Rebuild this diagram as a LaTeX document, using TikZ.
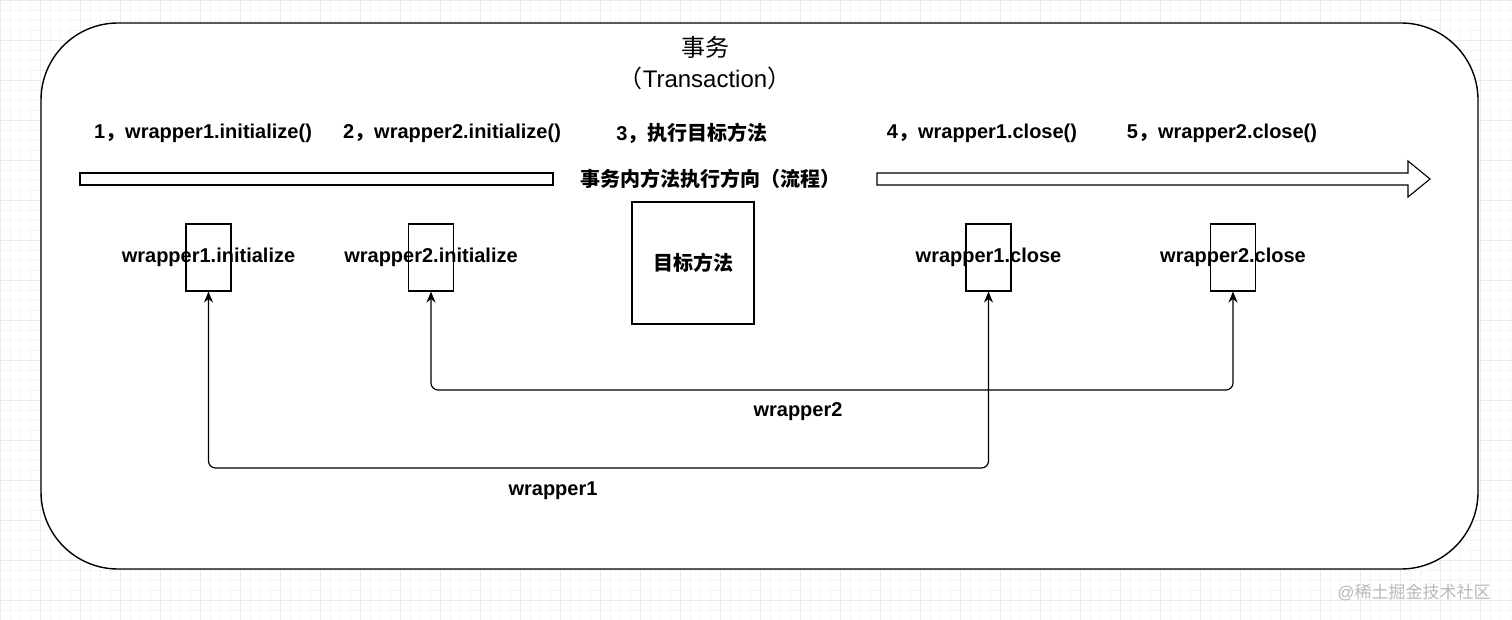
\documentclass[tikz,border=0pt]{standalone}
\usepackage{fontspec}
\setmainfont{Liberation Sans}
\newfontfamily\cjk{Noto Sans CJK SC}
\usetikzlibrary{arrows.meta,positioning}

\begin{document}
\begin{tikzpicture}[x=1pt,y=-1pt,
	tag/.style={font=\fontsize{20}{22}\selectfont\bfseries,inner sep=0},
	slot/.style={draw,line width=1.1pt,minimum width=45pt,minimum height=67pt,inner sep=0},
	link/.style={draw,line width=1.2pt,rounded corners=7pt,{Stealth[length=11pt,width=9pt]}-{Stealth[length=11pt,width=9pt]}},
	flow/.style={draw,line width=1.1pt,fill=white},
]
\useasboundingbox (0,0) rectangle (1512,620);
\draw[gray!8,line width=0.6pt,step=10pt] (0,0) grid (1512,620);
\draw[gray!16,line width=0.8pt,step=40pt] (0,0) grid (1512,620);
\node[draw,line width=1.4pt,fill=white,rounded corners=77pt,minimum width=1437pt,minimum height=546pt] (tx) at (759.5,296) {};
\node[font=\fontsize{24}{31}\selectfont,align=center] (title) at (705,63) {{\cjk 事务}\\{\cjk （}Transaction{\cjk ）}};

\node[tag] (s1) at (203,133) {1{\cjk ，}wrapper1.initialize()};
\node[tag] (s2) at (452,133) {2{\cjk ，}wrapper2.initialize()};
\node[tag] (s3) at (692,133) {3{\cjk ，执行目标方法}};
\node[tag] (s4) at (982,133) {4{\cjk ，}wrapper1.close()};
\node[tag] (s5) at (1222,133) {5{\cjk ，}wrapper2.close()};

\draw[flow] (80,173) rectangle (553,185);
\draw[flow] (877,173) -- (1408,173) -- (1408,161) -- (1430,179) -- (1408,197) -- (1408,185) -- (877,185) -- cycle;
\node[tag] (dir) at (710,179) {\cjk 事务内方法执行方向（流程）};

\node[slot,label={[tag]center:wrapper1.initialize}] (b1) at (208.5,257.5) {};
\node[slot,label={[tag]center:wrapper2.initialize}] (b2) at (431,257.5) {};
\node[slot,minimum width=122pt,minimum height=122pt] (goal) at (693,263) {};
\node[tag] at (goal) {\cjk 目标方法};
\node[slot,label={[tag]center:wrapper1.close}] (b3) at (988.5,257.5) {};
\node[slot,label={[tag]center:wrapper2.close}] (b4) at (1233,257.5) {};

\coordinate (bus1) at (600,468);
\coordinate (bus2) at (800,390);
\draw[link] (b1.south) |- (bus1) -| (b3.south);
\draw[link] (b2.south) |- (bus2) -| (b4.south);
\node[tag] (l2) at (798,412) {wrapper2};
\node[tag] (l1) at (553,491) {wrapper1};

\node[text=gray!55,font=\fontsize{17}{20}\selectfont,inner sep=0] (mark) at (1414,592) {@{\cjk 稀土掘金技术社区}};
\end{tikzpicture}
\end{document}
